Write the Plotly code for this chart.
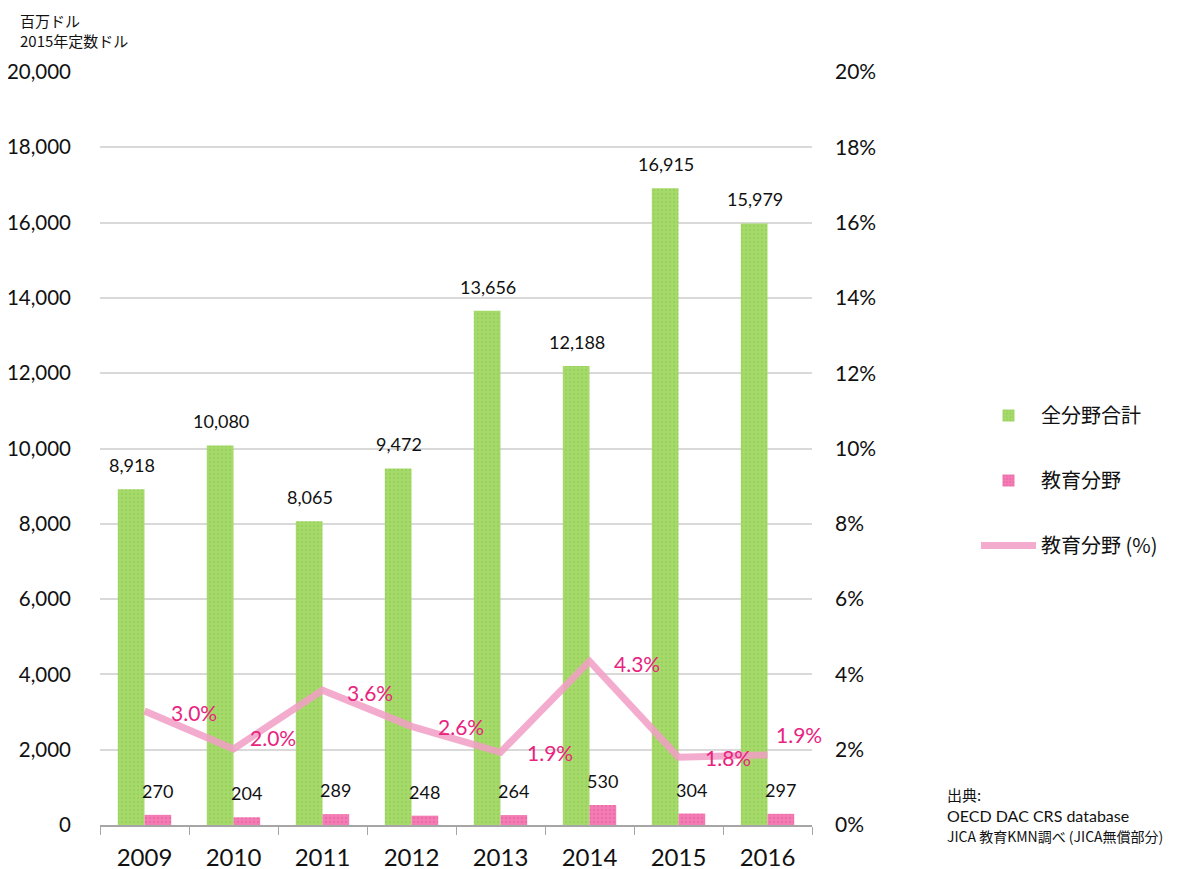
import plotly.graph_objects as go

years = ["2009", "2010", "2011", "2012", "2013", "2014", "2015", "2016"]
total = [8918, 10080, 8065, 9472, 13656, 12188, 16915, 15979]
education = [270, 204, 289, 248, 264, 530, 304, 297]
edu_pct = [3.03, 2.02, 3.58, 2.62, 1.93, 4.35, 1.80, 1.86]
pct_shift = [(24, -2), (14, 11), (22, -2), (24, 0), (24, 0), (22, -2), (24, 0), (6, 20)]
source_lines = ["出典:", "OECD DAC CRS database", "JICA 教育KMN調べ (JICA無償部分)"]

JP = "Noto Sans CJK JP"
NUM = "Lato"

fig = go.Figure()
fig.add_trace(go.Bar(
    x=years, y=total, name="全分野合計", legendgroup="a",
    marker=dict(color="#A6DA6B", line=dict(width=0),
                pattern=dict(shape=".", fgcolor="#8CC850", size=4, solidity=0.3)),
))
fig.add_trace(go.Bar(
    x=years, y=education, name="教育分野", legendgroup="b",
    marker=dict(color="#F27DB4", line=dict(width=0),
                pattern=dict(shape=".", fgcolor="#E8559A", size=4, solidity=0.3)),
))
fig.add_trace(go.Scatter(
    x=years, y=edu_pct, name="教育分野 (%)", legendgroup="c", yaxis="y2",
    mode="lines", line=dict(color="rgba(242,158,198,0.85)", width=7),
))

# value labels above bars
for i, (t, e) in enumerate(zip(total, education)):
    fig.add_annotation(x=i, y=t, text=f"{t:,}", showarrow=False, xshift=-13,
                       yshift=24, font=dict(size=18, family=NUM, color="#111"))
    fig.add_annotation(x=i, y=e, text=f"{e:,}", showarrow=False, xshift=13,
                       yshift=24, font=dict(size=18, family=NUM, color="#111"))
for i, (p, (dx, dy)) in enumerate(zip(edu_pct, pct_shift)):
    fig.add_annotation(x=i, y=p, yref="y2", text=f"{p:.1f}%", showarrow=False,
                       xanchor="left", xshift=dx, yshift=dy,
                       font=dict(size=21, family=NUM, color="#E8247F"))

fig.add_annotation(xref="paper", yref="paper", x=(18 - 100) / 712, y=1 + (72 - 8) / 753,
                   xanchor="left", yanchor="top", showarrow=False, align="left",
                   text="百万ドル<br>2015年定数ドル", font=dict(size=15, family=JP, color="#111"))
src_fonts = [(15, JP), (16, NUM), (14, JP)]
for k, (line, (sz, fam)) in enumerate(zip(source_lines, src_fonts)):
    fig.add_annotation(xref="paper", yref="paper", x=(945 - 100) / 712,
                       y=(825 - (794 + 21 * k)) / 753, xanchor="left", yanchor="middle",
                       showarrow=False, text=line, font=dict(size=sz, family=fam, color="#111"))

fig.update_layout(
    width=1181, height=869,
    margin=dict(l=92, r=377, t=64, b=52, autoexpand=False),
    plot_bgcolor="white", paper_bgcolor="white",
    barmode="group", bargap=0.40, bargroupgap=0,
    font=dict(family=NUM, color="#111"),
    xaxis=dict(type="category", range=[-0.5, len(years) - 0.5], autorange=False,
               showgrid=False, showline=True, linecolor="#A6A6A6",
               linewidth=1.5, ticks="outside", tickson="boundaries", ticklen=8,
               tickcolor="#A6A6A6", tickfont=dict(size=24, family=NUM), ticklabelstandoff=10,
               automargin=False),
    yaxis=dict(range=[0, 20000], dtick=2000, tickformat=",d", showgrid=True,
               gridcolor="#D9D9D9", gridwidth=1.5, zeroline=False,
               tickfont=dict(size=20.5, family=NUM), ticklabelstandoff=28, automargin=False),
    yaxis2=dict(range=[0, 20], dtick=2, overlaying="y", side="right", showgrid=False,
                ticksuffix="%", zeroline=False, tickfont=dict(size=21, family=NUM),
                ticklabelstandoff=22, automargin=False),
    legend=dict(x=(976 - 100) / 712, y=(825 - 396) / 753, xanchor="left", yanchor="top",
                font=dict(size=20, family=JP), tracegroupgap=36, itemwidth=55,
                bgcolor="rgba(0,0,0,0)"),
    showlegend=True,
)
fig.write_html("out.html")
